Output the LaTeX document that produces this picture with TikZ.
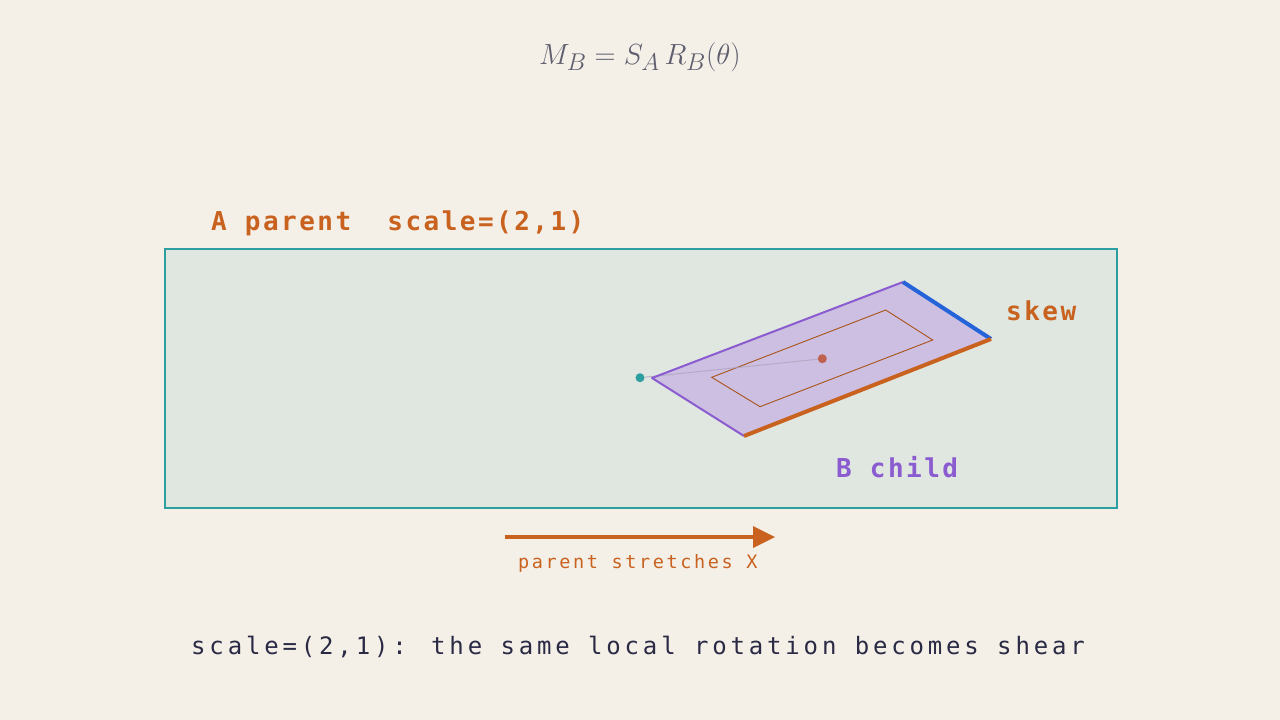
\documentclass[tikz,border=0pt]{standalone}
\usepackage{fontspec}
\newfontfamily\monob[LetterSpace=9.5]{DejaVu Sans Mono Bold}
\newfontfamily\monoarrow[LetterSpace=14]{DejaVu Sans Mono}
\newfontfamily\monocap[LetterSpace=16]{DejaVu Sans Mono}
\definecolor{bg}{HTML}{F4F0E8}
\definecolor{panel}{HTML}{E0E7E0}
\definecolor{teal}{HTML}{2E9FA0}
\definecolor{orng}{HTML}{C8621E}
\definecolor{purp}{HTML}{8A5CD0}
\definecolor{lav}{HTML}{C9B8E2}
\definecolor{blu}{HTML}{2563D9}
\definecolor{eqgrey}{HTML}{5E5E6E}
\definecolor{navy}{HTML}{2A2A45}
\definecolor{dotred}{HTML}{C0604E}
\begin{document}
\begin{tikzpicture}[x=1pt,y=-1pt,
  lbl/.style={font=\fontsize{26}{30}\selectfont\monob, inner sep=0pt},
  dotnode/.style={circle, inner sep=0pt, minimum size=9pt}]
\useasboundingbox[fill=bg] (0,0) rectangle (1280,720);
% equation
\node[text=eqgrey, inner sep=0pt] (eq) at (640,57) {\scalebox{1.17}{\fontsize{24.88}{30}\selectfont $M_B = S_A\, R_B(\theta)$}};
% parent label
\node[lbl, text=orng, anchor=west] (alabel) at (211,223) {A parent\ \ scale=(2,1)};
% parent panel
\node[draw=teal, line width=2pt, fill=panel, inner sep=0pt, minimum width=952pt, minimum height=259pt, anchor=north west] (panel) at (164,248) {};
% child parallelogram
\coordinate (L) at (652,378);
\coordinate (T) at (903,282);
\coordinate (R) at (991,339);
\coordinate (Bt) at (744,436);
\fill[lav, opacity=0.85] (L) -- (T) -- (R) -- (Bt) -- cycle;
\draw[orng!85!black, line width=0.9pt] (711.7,377.3) -- (885.7,310) -- (932.7,340) -- (760,406.7) -- cycle;
\node[dotnode, fill=teal] (pivot) at (640,377.7) {};
\node[dotnode, fill=dotred] (center) at (822.3,358.7) {};
\draw[lav!60!gray, line width=1pt, opacity=0.7] (pivot) -- (center);
\draw[purp, line width=2pt, line join=round] (Bt) -- (L) -- (T);
\draw[blu, line width=4pt] (T) -- (R);
\draw[orng, line width=4pt] (Bt) -- (R);
% labels
\node[lbl, text=orng, anchor=west] (skew) at (1006,311) {skew};
\node[lbl, text=purp, anchor=west] (blabel) at (836,467) {B child};
% arrow
\coordinate (a0) at (505,537);
\coordinate (a1) at (775,537);
\draw[orng, line width=3.5pt] (a0) -- (756,537);
\fill[orng] (a1) -- (753,526) -- (753,548) -- cycle;
\node[text=orng, inner sep=0pt, anchor=west] (arrlabel) at (518,563) {\fontsize{18.5}{22}\selectfont\monoarrow parent stretches X};
% caption
\node[text=navy, inner sep=0pt, anchor=west] (caption) at (191,647) {\fontsize{24}{28}\selectfont\monocap scale=(2,1): the same local rotation becomes shear};
\end{tikzpicture}
\end{document}
